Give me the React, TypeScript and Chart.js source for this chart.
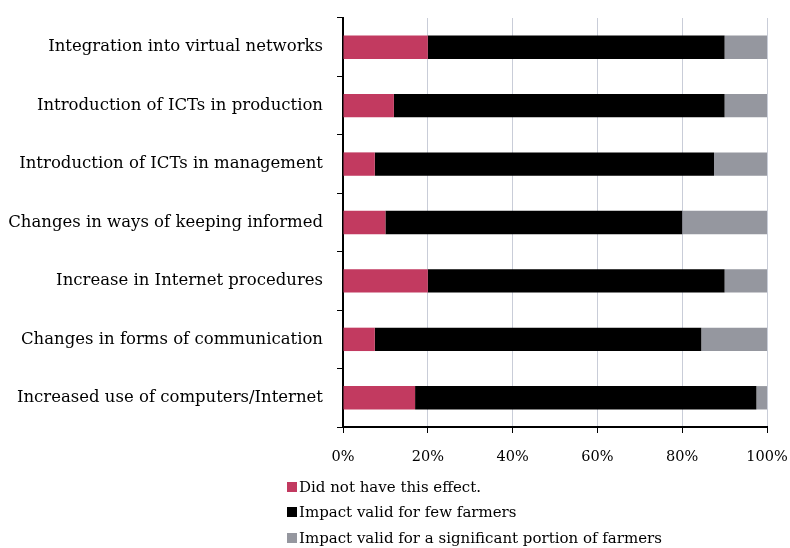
import React, { useEffect, useRef } from "react";
import { Chart, registerables } from "chart.js";

Chart.register(...registerables);

const categories = [
  "Integration into virtual networks",
  "Introduction of ICTs in production",
  "Introduction of ICTs in management",
  "Changes in ways of keeping informed",
  "Increase in Internet procedures",
  "Changes in forms of communication",
  "Increased use of computers/Internet",
];
const didNotHaveEffect = [20, 12, 7.5, 10, 20, 7.5, 17];
const validForFew = [70, 78, 80, 70, 70, 77, 80.5];
const validForSignificant = [10, 10, 12.5, 20, 10, 15.5, 2.5];
const xTicks = [0, 20, 40, 60, 80, 100];
const seriesNames = [
  "Did not have this effect.",
  "Impact valid for few farmers",
  "Impact valid for a significant portion of farmers",
];
const colors = ["#c23a60", "#000000", "#95979f"];

const FONT = "'DejaVu Serif', 'Liberation Serif', serif";

export default function App() {
  const ref = useRef<HTMLCanvasElement | null>(null);
  useEffect(() => {
    document.body.style.margin = "0";
    const ctx = ref.current!;
    const chart = new Chart(ctx, {
      type: "bar",
      data: {
        labels: categories,
        datasets: [didNotHaveEffect, validForFew, validForSignificant].map((d, i) => ({
          label: seriesNames[i],
          data: d,
          backgroundColor: colors[i],
          borderWidth: 0,
          categoryPercentage: 0.8,
          barPercentage: 0.5,
        })),
      },
      options: {
        indexAxis: "y",
        animation: false,
        responsive: false,
        maintainAspectRatio: false,
        layout: { padding: { top: 18, right: 23, bottom: 0, left: 0 } },
        plugins: { legend: { display: false }, tooltip: { enabled: false } },
        scales: {
          x: {
            stacked: true,
            min: 0,
            max: 100,
            afterBuildTicks: (axis: any) => {
              axis.ticks = xTicks.map((v) => ({ value: v }));
            },
            afterFit: (scale: any) => {
              scale.height = 121;
              scale.paddingLeft = 0;
              scale.paddingRight = 0;
            },
            ticks: {
              color: "#000",
              font: { family: FONT, size: 14.5 },
              padding: 16,
              callback: (v: any) => v + "%",
            },
            grid: {
              color: "#c9cdd8",
              lineWidth: 1,
              tickColor: "#000",
              tickLength: 6,
            },
            border: { color: "#000", width: 2 },
          },
          y: {
            stacked: true,
            afterFit: (scale: any) => {
              scale.width = 343;
              scale.paddingTop = 0;
              scale.paddingBottom = 0;
            },
            ticks: {
              color: "#000",
              font: { family: FONT, size: 16.5 },
              padding: 14,
            },
            grid: {
              drawOnChartArea: false,
              tickColor: "#000",
              tickLength: 6,
              offset: true,
            },
            border: { color: "#000", width: 2 },
          },
        },
      },
    });
    return () => chart.destroy();
  }, []);

  return (
    <div style={{ position: "relative", width: 790, height: 548 }}>
      <canvas ref={ref} width={790} height={548} style={{ display: "block" }} />
      <div style={{ position: "absolute", left: 287, top: 474, fontFamily: FONT, fontSize: 15, color: "#000" }}>
        {seriesNames.map((n, i) => (
          <div key={n} style={{ display: "flex", alignItems: "center", height: 25.5 }}>
            <span style={{ display: "inline-block", width: 10, height: 10, background: colors[i], marginRight: 2 }} />
            <span>{n}</span>
          </div>
        ))}
      </div>
    </div>
  );
}
